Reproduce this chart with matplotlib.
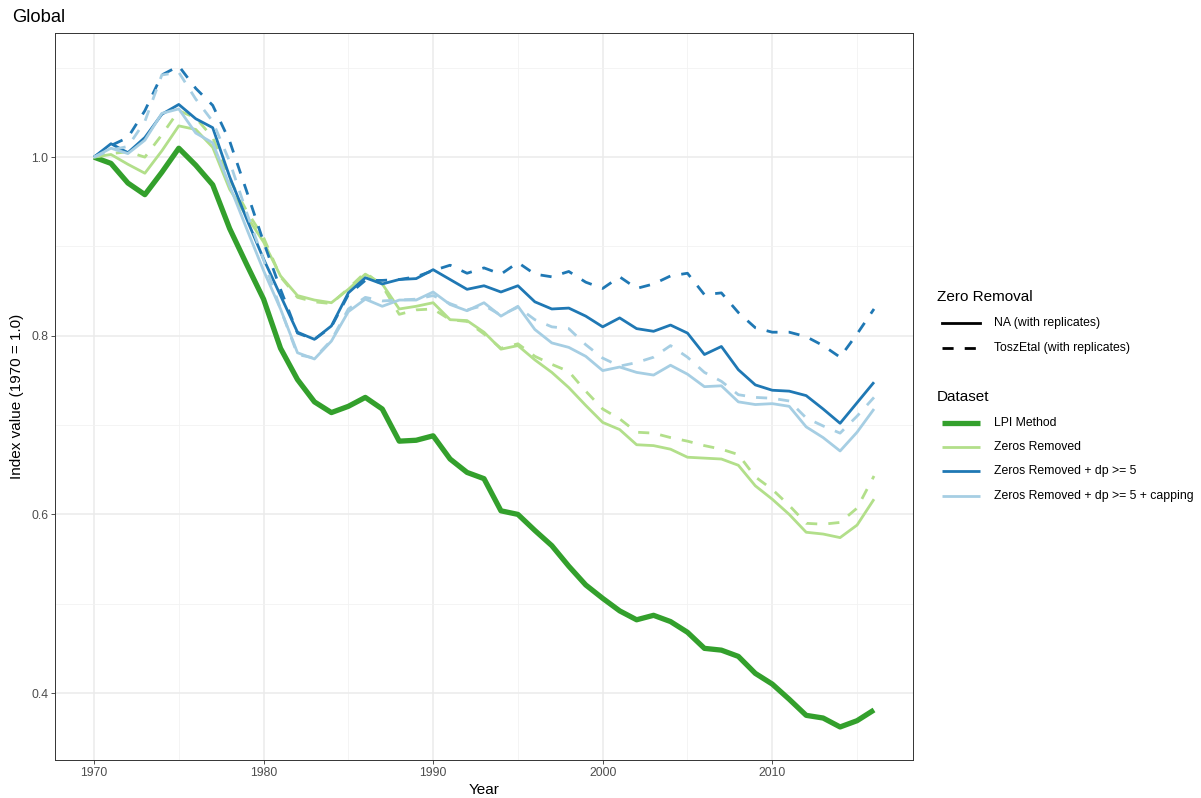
import matplotlib
matplotlib.use("Agg")
import matplotlib.pyplot as plt
from matplotlib.lines import Line2D
from matplotlib.ticker import MultipleLocator
import numpy as np

plt.rcParams['font.family'] = ['Liberation Sans', 'DejaVu Sans']

years = list(range(1970, 2017))

lpi_method = [
    1.000, 0.993, 0.971, 0.958, 0.983, 1.010, 0.991, 0.969, 0.920, 0.880,
    0.841, 0.786, 0.751, 0.726, 0.714, 0.721, 0.731, 0.718, 0.682, 0.683,
    0.688, 0.662, 0.647, 0.640, 0.604, 0.600, 0.582, 0.565, 0.542, 0.521,
    0.506, 0.492, 0.482, 0.487, 0.480, 0.468, 0.450, 0.448, 0.441, 0.422,
    0.410, 0.393, 0.375, 0.372, 0.362, 0.369, 0.381]

zeros_removed_na = [
    1.000, 1.003, 0.992, 0.982, 1.007, 1.035, 1.031, 1.011, 0.964, 0.934,
    0.905, 0.867, 0.845, 0.840, 0.837, 0.852, 0.869, 0.858, 0.830, 0.833,
    0.837, 0.818, 0.817, 0.804, 0.785, 0.789, 0.773, 0.759, 0.742, 0.722,
    0.703, 0.695, 0.678, 0.677, 0.673, 0.664, 0.663, 0.662, 0.655, 0.632,
    0.617, 0.600, 0.580, 0.578, 0.574, 0.588, 0.617]

zeros_removed_tosz = [
    1.000, 1.004, 1.006, 1.000, 1.025, 1.052, 1.044, 1.022, 0.975, 0.940,
    0.910, 0.866, 0.843, 0.838, 0.836, 0.853, 0.871, 0.856, 0.824, 0.829,
    0.830, 0.818, 0.816, 0.802, 0.786, 0.791, 0.777, 0.768, 0.760, 0.738,
    0.718, 0.707, 0.692, 0.691, 0.686, 0.682, 0.677, 0.673, 0.667, 0.642,
    0.628, 0.610, 0.590, 0.589, 0.591, 0.607, 0.643]

dp5_na = [
    1.000, 1.015, 1.005, 1.022, 1.048, 1.059, 1.043, 1.033, 0.978, 0.931,
    0.886, 0.845, 0.804, 0.796, 0.811, 0.848, 0.865, 0.858, 0.863, 0.864,
    0.874, 0.863, 0.852, 0.856, 0.849, 0.856, 0.838, 0.830, 0.831, 0.822,
    0.810, 0.820, 0.808, 0.805, 0.812, 0.803, 0.779, 0.788, 0.762, 0.745,
    0.739, 0.738, 0.733, 0.718, 0.702, 0.725, 0.748]

dp5_tosz = [
    1.000, 1.013, 1.022, 1.052, 1.092, 1.102, 1.077, 1.058, 1.018, 0.962,
    0.905, 0.852, 0.803, 0.796, 0.810, 0.846, 0.862, 0.862, 0.863, 0.866,
    0.873, 0.879, 0.870, 0.876, 0.869, 0.882, 0.869, 0.866, 0.872, 0.860,
    0.853, 0.866, 0.853, 0.858, 0.867, 0.870, 0.846, 0.848, 0.826, 0.809,
    0.804, 0.804, 0.799, 0.789, 0.776, 0.802, 0.830]

capping_na = [
    1.000, 1.010, 1.004, 1.019, 1.049, 1.054, 1.027, 1.016, 0.968, 0.920,
    0.873, 0.830, 0.781, 0.774, 0.794, 0.827, 0.841, 0.833, 0.840, 0.840,
    0.849, 0.835, 0.828, 0.837, 0.822, 0.833, 0.807, 0.792, 0.787, 0.777,
    0.761, 0.765, 0.759, 0.756, 0.767, 0.757, 0.743, 0.744, 0.726, 0.723,
    0.724, 0.721, 0.698, 0.686, 0.671, 0.692, 0.718]

capping_tosz = [
    1.000, 1.008, 1.012, 1.040, 1.092, 1.095, 1.065, 1.040, 0.995, 0.938,
    0.885, 0.830, 0.779, 0.775, 0.795, 0.830, 0.843, 0.839, 0.840, 0.841,
    0.845, 0.836, 0.829, 0.834, 0.823, 0.832, 0.818, 0.810, 0.808, 0.790,
    0.775, 0.766, 0.770, 0.776, 0.789, 0.776, 0.759, 0.749, 0.734, 0.731,
    0.730, 0.727, 0.708, 0.699, 0.691, 0.710, 0.731]

dataset_names = ["LPI Method", "Zeros Removed", "Zeros Removed + dp >= 5",
                 "Zeros Removed + dp >= 5 + capping"]
dataset_colors = ["#33a02c", "#b2df8a", "#1f78b4", "#a6cee3"]
dataset_widths = [3.8, 2.0, 2.0, 2.0]
removal_names = ["NA (with replicates)", "ToszEtal (with replicates)"]

series = [
    (0, 0, lpi_method),
    (1, 0, zeros_removed_na),
    (1, 1, zeros_removed_tosz),
    (2, 0, dp5_na),
    (2, 1, dp5_tosz),
    (3, 0, capping_na),
    (3, 1, capping_tosz),
]

W, H = 1201, 798
fig = plt.figure(figsize=(W / 100, H / 100), dpi=100)
ax = fig.add_axes([55 / W, 1 - 760 / H, (913 - 55) / W, (760 - 33) / H])

dash_pattern = (0, (4, 4))
for di, ri, vals in series:
    ax.plot(years, vals, color=dataset_colors[di], lw=dataset_widths[di],
            linestyle='-' if ri == 0 else dash_pattern,
            solid_capstyle='butt', dash_capstyle='butt', zorder=3)

# axis ranges with 5% expansion on each side
allv = np.concatenate([np.asarray(s[2]) for s in series])
ymin, ymax = allv.min(), allv.max()
yr = ymax - ymin
ax.set_ylim(ymin - 0.05 * yr, ymax + 0.05 * yr)
xr = years[-1] - years[0]
ax.set_xlim(years[0] - 0.05 * xr, years[-1] + 0.05 * xr)

ax.xaxis.set_major_locator(MultipleLocator(10))
ax.xaxis.set_minor_locator(MultipleLocator(5))
ax.yaxis.set_minor_locator(MultipleLocator(0.1))
ax.set_yticks([0.4, 0.6, 0.8, 1.0])
ax.set_yticklabels(["0.4", "0.6", "0.8", "1.0"])

ax.grid(which='major', color='#ebebeb', lw=1.1, zorder=0)
ax.grid(which='minor', color='#f2f2f2', lw=0.6, zorder=0)
ax.set_axisbelow(True)
ax.tick_params(which='major', length=3, width=0.6, color='#333333',
               labelsize=8.8, labelcolor='#4d4d4d', pad=2)
ax.tick_params(which='minor', length=0)
for sp in ax.spines.values():
    sp.set_color('#333333')
    sp.set_linewidth(0.7)

ax.set_xlabel("Year", fontsize=11, color='black', labelpad=3)
ax.set_ylabel("Index value (1970 = 1.0)", fontsize=11, color='black', labelpad=5)
fig.text(12 / W, 1 - 17 / H, "Global", fontsize=13.2, va='center', ha='left')


def fx(px):
    return px / W


def fy(py):
    return 1 - py / H


# legend: zero removal (line type)
fig.text(fx(937), fy(297), "Zero Removal", fontsize=11, va='center', ha='left')
for i, name in enumerate(removal_names):
    y = 323 + i * 24.5
    fig.add_artist(Line2D([fx(942), fx(980)], [fy(y), fy(y)], color='black',
                          lw=2.0, linestyle='-' if i == 0 else dash_pattern,
                          transform=fig.transFigure))
    fig.text(fx(994), fy(y), name, fontsize=8.8, va='center', ha='left')

# legend: dataset (colour)
fig.text(fx(937), fy(397), "Dataset", fontsize=11, va='center', ha='left')
for i, name in enumerate(dataset_names):
    y = 423 + i * 24.2
    fig.add_artist(Line2D([fx(942), fx(980)], [fy(y), fy(y)],
                          color=dataset_colors[i], lw=dataset_widths[i],
                          solid_capstyle='butt', transform=fig.transFigure))
    fig.text(fx(994), fy(y), name, fontsize=8.8, va='center', ha='left')

fig.savefig("out.png", dpi=100)
